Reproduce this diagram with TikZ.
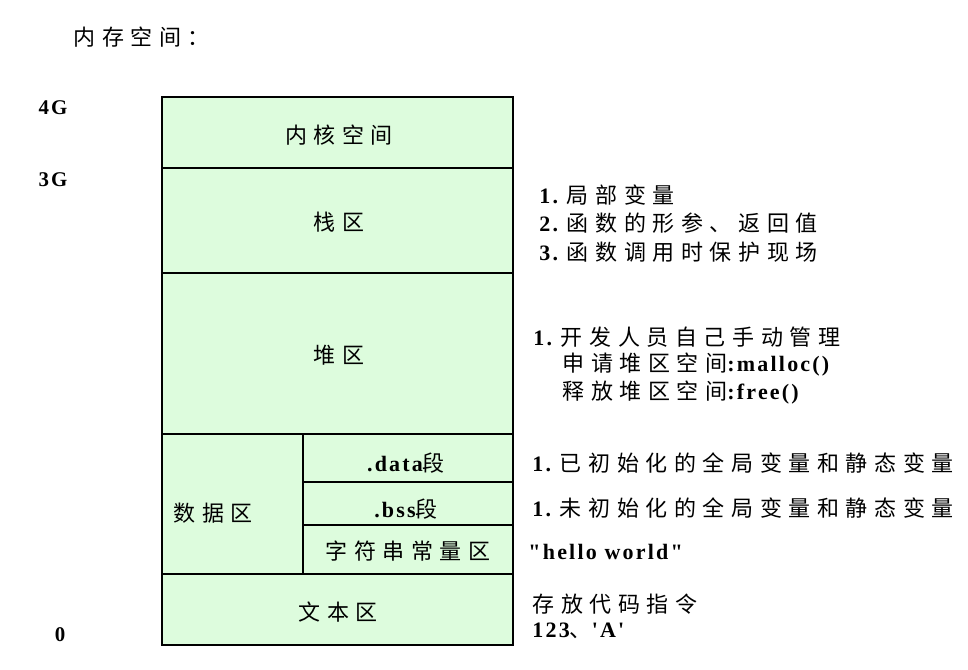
\documentclass[tikz,border=0pt]{standalone}
\usepackage{fontspec}
\newfontfamily\cjk[Scale=1.1, LetterSpace=30]{Noto Sans CJK SC}
\newfontfamily\lat[Scale=1.1, LetterSpace=10]{Liberation Serif}
\definecolor{memgreen}{RGB}{221,252,221}
\newcommand{\zh}[1]{{\cjk #1}}
\newcommand{\en}[1]{{\lat\bfseries #1}}

\begin{document}
\begin{tikzpicture}[x=0.5pt, y=-0.5pt,
    region/.style={draw, fill=memgreen, line width=1.3pt},
    cell/.style={draw, fill=memgreen, line width=0.7pt},
    note/.style={anchor=west, inner sep=0pt, font=\fontsize{10}{12}\selectfont},
    zone/.style={inner sep=0pt, font=\fontsize{10}{12}\selectfont},
    addr/.style={inner sep=0pt, font=\fontsize{9.5}{12}\selectfont\lat\bfseries}]
    \useasboundingbox (0,0) rectangle (968,669);

    % title
    \node[note] (title) at (73,37) {\zh{内存空间：}};

    % address marks
    \node[addr] (g4) at (53,108) {4G};
    \node[addr] (g3) at (53,180) {3G};
    \node[addr] (g0) at (60,635) {0};

    % memory layout, top to bottom
    \draw[region] (162,97) rectangle (513,168);
    \draw[region] (162,168) rectangle (513,273);
    \draw[region] (162,273) rectangle (513,434);
    \draw[cell] (162,434) rectangle (303,574);
    \draw[cell] (303,434) rectangle (513,482);
    \draw[cell] (303,482) rectangle (513,525);
    \draw[cell] (303,525) rectangle (513,574);
    \draw[line width=1.3pt] (162,434) rectangle (513,574);
    \draw[region] (162,574) rectangle (513,645);

    \node[zone] (kernel) at (339,135) {\zh{内核空间}};
    \node[zone] (stack) at (339,222) {\zh{栈区}};
    \node[zone] (heap) at (339,355) {\zh{堆区}};
    \node[zone] (data) at (213,513) {\zh{数据区}};
    \node[zone] (dataseg) at (406,463) {\en{.data}\zh{段}};
    \node[zone] (bssseg) at (406,509) {\en{.bss}\zh{段}};
    \node[zone] (strconst) at (408,551) {\zh{字符串常量区}};
    \node[zone] (text) at (338,612) {\zh{文本区}};

    % notes on the right
    \node[note] (stack1) at (539,195) {\en{1.} \zh{局部变量}};
    \node[note] (stack2) at (539,223) {\en{2.} \zh{函数的形参、返回值}};
    \node[note] (stack3) at (539,252) {\en{3.} \zh{函数调用时保护现场}};

    \node[note] (heap1) at (533,337) {\en{1.} \zh{开发人员自己手动管理}};
    \node[note] (heap2) at (562,365) {\zh{申请堆区空间}\en{:malloc()}};
    \node[note] (heap3) at (562,393) {\zh{释放堆区空间}\en{:free()}};

    \node[note] (datanote) at (532,463) {\en{1.} \zh{已初始化的全局变量和静态变量}};
    \node[note] (bssnote) at (532,508) {\en{1.} \zh{未初始化的全局变量和静态变量}};
    \node[note] (strnote) at (528,552) {\en{"hello world"}};
    \node[note] (text1) at (532,604) {\zh{存放代码指令}};
    \node[note] (text2) at (532,631) {\en{123}\zh{、}\en{'A'}};
\end{tikzpicture}
\end{document}
